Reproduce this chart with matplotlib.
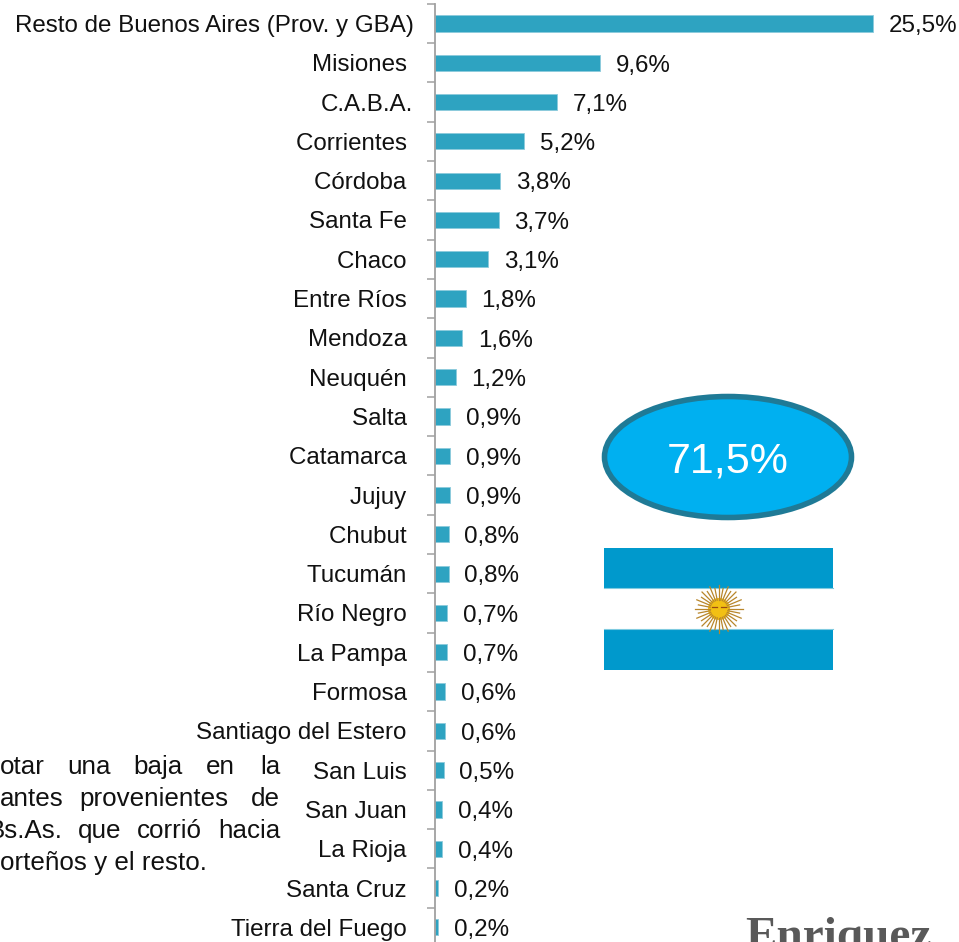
import numpy as np
import matplotlib
matplotlib.use('Agg')
from matplotlib import pyplot as plt
from matplotlib.patches import Ellipse, Rectangle, Circle

plt.rcParams['font.family'] = ['Liberation Sans', 'DejaVu Sans']

# trailing space on some names is how the original lines them up
provincias = ['Resto de Buenos Aires (Prov. y GBA)', 'Misiones ', 'C.A.B.A.', 'Corrientes ',
              'Córdoba ', 'Santa Fe ', 'Chaco ', 'Entre Ríos ', 'Mendoza ', 'Neuquén ', 'Salta ',
              'Catamarca ', 'Jujuy ', 'Chubut ', 'Tucumán ', 'Río Negro ', 'La Pampa ', 'Formosa ',
              'Santiago del Estero ', 'San Luis ', 'San Juan ', 'La Rioja ', 'Santa Cruz ',
              'Tierra del Fuego ']
valores = [25.5, 9.6, 7.1, 5.2, 3.8, 3.7, 3.1, 1.8, 1.6, 1.2, 0.9, 0.9, 0.9, 0.8, 0.8, 0.7, 0.7,
           0.6, 0.6, 0.5, 0.4, 0.4, 0.2, 0.2]
total = '71,5%'

W, H = 959, 942
fig = plt.figure(figsize=(W / 100, H / 100), dpi=100)

# axes runs a little past the bottom of the figure, like the cropped slide
ax = fig.add_axes([435 / W, -5 / H, 524 / W, 943.2 / H])
filas = np.arange(len(provincias))
ax.barh(filas, valores, height=0.41, color='#2EA3C1', edgecolor='#8CCBDC', linewidth=0.6)
ax.set_xlim(0, 524 / 17.18)
ax.set_ylim(len(provincias) - 0.5, -0.5)

ax.set_yticks(filas)
ax.set_yticklabels(provincias, fontsize=17.4, color='#111111')
ax.tick_params(axis='y', which='major', length=0, pad=15.5)
ax.set_yticks(np.append(filas - 0.5, filas[-1] + 0.5), minor=True)
ax.tick_params(axis='y', which='minor', length=5.5, width=1.1, color='#A0A0A0')
ax.set_xticks([])
for lado in ['top', 'right', 'bottom']:
    ax.spines[lado].set_visible(False)
ax.spines['left'].set_color('#A0A0A0')
ax.spines['left'].set_linewidth(1.3)

for i, v in enumerate(valores):
    etiqueta = f'{v:.1f}%'.replace('.', ',')
    ax.annotate(etiqueta, (v, i), xytext=(11.3, -2), textcoords='offset points',
                va='center', ha='left', fontsize=17.4, color='#111111', annotation_clip=False)

# overlay in pixel coordinates for the slide decorations
over = fig.add_axes([0, 0, 1, 1], facecolor='none')
over.set_xlim(0, W)
over.set_ylim(H, 0)
over.axis('off')

over.add_patch(Ellipse((728, 457), 247, 121, facecolor='#00B0F0', edgecolor='#1F7A96', linewidth=4))
over.text(728, 462, total, color='white', fontsize=31, ha='center', va='center')

# flag
over.add_patch(Rectangle((604, 548), 229, 40, color='#0099CC', linewidth=0))
over.add_patch(Rectangle((604, 629), 229, 41, color='#0099CC', linewidth=0))
over.plot([604, 833], [588, 588], color='#7FCBE0', lw=0.8)
over.plot([604, 833], [629, 629], color='#7FCBE0', lw=0.8)
angulos = np.linspace(0, 2 * np.pi, 32, endpoint=False)
for k, a in enumerate(angulos):
    r = 24 if k % 2 == 0 else 21
    over.plot([719 + 9 * np.cos(a), 719 + r * np.cos(a)], [609 + 9 * np.sin(a), 609 + r * np.sin(a)],
              color='#B8862B', lw=0.9)
over.add_patch(Circle((719, 609), 11, color='#F2C014', linewidth=0))
over.plot([712, 717], [607, 607], color='#9A4A12', lw=0.9)
over.plot([721, 726], [607, 607], color='#9A4A12', lw=0.9)

# justified note, cut off by the left edge
nota = [
    (767, [('otar', 0), ('una', 67), ('baja', 133), ('en', 206), ('la', 260)]),
    (799, [('antes', 0), ('provenientes', 79), ('de', 251)]),
    (831, [('que', 78), ('corrió', 137), ('hacia', 218)]),
    (863, [('orteños y el resto.', 0)]),
]
for y, palabras in nota:
    for palabra, x in palabras:
        over.text(x, y, palabra, fontsize=18.7, color='#111111', ha='left', va='center')
over.text(63, 831, 'Bs.As.', fontsize=18.7, color='#111111', ha='right', va='center')

over.text(745, 949, 'Enriquez', family='Liberation Serif', weight='bold', fontsize=34,
          color='#595959', ha='left', va='baseline')

fig.savefig('out.png', dpi=100)
